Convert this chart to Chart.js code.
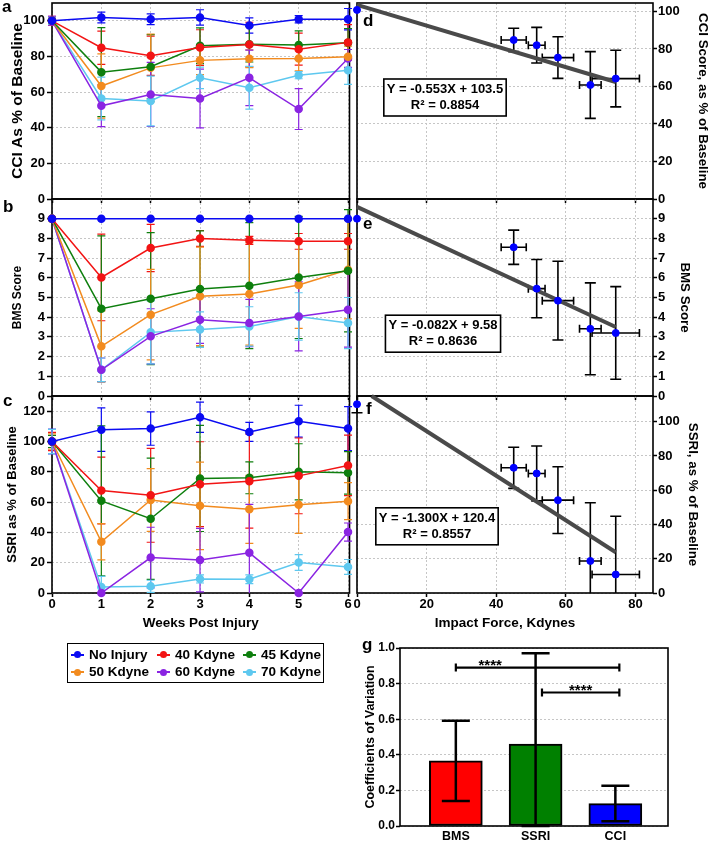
<!DOCTYPE html>
<html>
<head>
<meta charset="utf-8">
<title>Injury outcome measures</title>
<script src="https://cdn.jsdelivr.net/npm/chart.js@4.4.1/dist/chart.umd.min.js"></script>
<style>
  body { margin: 0; background: #fff; }
  #page { position: relative; width: 709px; height: 842px; overflow: hidden;
          font-family: "Liberation Sans", Arial, sans-serif; font-weight: bold; color: #000; }
  #page canvas { position: absolute; }
  .tag { position: absolute; font-size: 17px; line-height: 1; }
  #legend { position: absolute; left: 67px; top: 643px; width: 257px; height: 40px;
            border: 1.5px solid #000; box-sizing: border-box; font-size: 13.5px; }
  #legend .item { position: absolute; white-space: nowrap; line-height: 16px; }
  #legend .mk { display: inline-block; position: relative; width: 13px; height: 2px;
                vertical-align: middle; margin-right: 5px; }
  #legend .mk i { position: absolute; left: 3px; top: -2.5px; width: 7px; height: 7px; border-radius: 50%; }
</style>
</head>
<body>
<div id="page">
  <canvas id="cciWeeks" width="362" height="220" style="left:0;top:-9px"></canvas>
  <canvas id="bmsWeeks" width="362" height="221" style="left:0;top:187px"></canvas>
  <canvas id="ssriWeeks" width="362" height="258" style="left:0;top:384px"></canvas>
  <canvas id="cciForce" width="364" height="220" style="left:345px;top:-9px"></canvas>
  <canvas id="bmsForce" width="364" height="221" style="left:345px;top:187px"></canvas>
  <canvas id="ssriForce" width="364" height="258" style="left:345px;top:384px"></canvas>
  <canvas id="covBars" width="325" height="206" style="left:355px;top:636px"></canvas>

  <div class="tag" style="left:2px;top:-2px">a</div>
  <div class="tag" style="left:3px;top:198px">b</div>
  <div class="tag" style="left:3px;top:392px">c</div>
  <div class="tag" style="left:363px;top:12px">d</div>
  <div class="tag" style="left:363px;top:215px">e</div>
  <div class="tag" style="left:366px;top:400px">f</div>
  <div class="tag" style="left:362px;top:636px">g</div>
  <div id="legend"></div>
</div>

<script>
const weeks = [0, 1, 2, 3, 4, 5, 6];
const groups = ['No Injury', '40 Kdyne', '45 Kdyne', '50 Kdyne', '60 Kdyne', '70 Kdyne'];
const groupColors = ['#0b0bf2', '#f21414', '#0e7f0e', '#f28b1f', '#8a24e2', '#5ec8ef'];

// CCI as % of baseline, one row per group
const cciMean = [
    [100, 101.9, 100.9, 101.9, 97.4, 100.9, 100.9],
    [100, 84.9, 80.4, 85.0, 86.7, 84.1, 87.9],
    [100, 71.2, 74.2, 86.0, 86.9, 86.4, 87.7],
    [100, 63.4, 73.6, 77.8, 78.7, 78.9, 79.8],
    [100, 52.3, 58.7, 56.4, 68.0, 50.5, 78.9],
    [100, 56.4, 55.0, 68.0, 62.4, 69.5, 72.3]
];
const cciErr = [
    [2, 3, 3, 4.3, 4.3, 2, 6],
    [2.5, 9.3, 11, 10, 12.5, 9, 10],
    [2, 25, 18, 10, 10, 8, 8],
    [2, 18, 19, 8, 5, 7, 6],
    [2.5, 11.7, 18, 16.5, 15.6, 11.5, 5],
    [2, 12, 14, 6, 12, 2, 8]
];

// BMS score
const bmsMean = [
    [9, 9, 9, 9, 9, 9, 9],
    [9, 6.02, 7.51, 8.0, 7.9, 7.85, 7.85],
    [9, 4.43, 4.94, 5.43, 5.6, 6.02, 6.36],
    [9, 2.52, 4.13, 5.06, 5.18, 5.63, 6.41],
    [9, 1.33, 3.03, 3.87, 3.70, 4.04, 4.38],
    [9, 1.33, 3.23, 3.37, 3.53, 4.04, 3.70]
];
const bmsErr = [
    [0, 0, 0, 0, 0, 0, 0],
    [0, 2.2, 1.2, 0.4, 0.2, 0.4, 0.4],
    [0, 3.7, 3.35, 2.95, 3.2, 3.1, 3.1],
    [0, 1.8, 2.3, 2.5, 2.6, 2.2, 2.5],
    [0, 0.6, 1.4, 1.2, 1.2, 1.75, 1.9],
    [0, 0.6, 1.6, 0.9, 1.0, 1.2, 1.3]
];

// SSRI as % of baseline
const ssriMean = [
    [100, 107.8, 108.5, 116, 106.3, 113.4, 108.5],
    [100, 67.6, 64.5, 71.8, 73.8, 77.3, 84.2],
    [100, 60.8, 49.0, 75.6, 76.0, 80.0, 79.3],
    [100, 33.8, 61.4, 57.5, 55.2, 58.3, 60.6],
    [100, 0, 23.4, 21.7, 26.5, 0, 40.2],
    [100, 4, 4.4, 9.3, 9.1, 20.1, 17.2]
];
const ssriErr = [
    [8, 14.3, 11, 10, 6.3, 10.5, 14.5],
    [6, 22, 31, 28, 31, 25, 20],
    [4, 49.5, 40, 35, 10.5, 18.5, 14],
    [5, 12, 20.7, 28.9, 22.5, 19, 12.2],
    [8, 0, 20, 21, 32, 0, 6],
    [8, 7, 4, 2.7, 2.9, 5.2, 4.9]
];

// outcome against impact force
const forceKdyne = [0, 45.0, 51.6, 57.7, 67.0, 74.3];
const forceErr = [0, 3.6, 2.4, 4.5, 3.1, 6.8];
const cciByForce = [100.8, 84.8, 82.0, 75.4, 60.8, 64.2];
const cciByForceErr = [0, 6.2, 9.5, 11.1, 17.8, 15.1];
const bmsByForce = [9, 7.55, 5.45, 4.84, 3.41, 3.2];
const bmsByForceErr = [0, 0.87, 1.48, 2.0, 2.33, 2.35];
const ssriByForce = [110.2, 73.1, 69.8, 54.2, 18.7, 10.8];
const ssriByForceErr = [5, 12, 16, 19.5, 34, 34];

// fitted line ends
const cciFitX = [0, 74.3], cciFitY = [103.5, 62.4];
const bmsFitX = [0, 74.3], bmsFitY = [9.6, 3.5];
const ssriFitX = [4.2, 74.3], ssriFitY = [115, 23.8];
const cciFitText = ['Y = -0.553X + 103.5', 'R\u00b2 = 0.8854'];
const bmsFitText = ['Y = -0.082X + 9.58', 'R\u00b2 = 0.8636'];
const ssriFitText = ['Y = -1.300X + 120.4', 'R\u00b2 = 0.8557'];

// coefficients of variation
const covLabels = ['BMS', 'SSRI', 'CCI'];
const covMean = [0.366, 0.46, 0.126];
const covErr = [0.225, 0.51, 0.1];
const covColors = ['#ff0000', '#008000', '#0000ff'];
const sigFrom = [0, 1.08];
const sigTo = [2.05, 2.05];
const sigLevel = [0.89, 0.75];
const sigMark = ['****', '****'];

const FONT = '"Liberation Sans", Arial, sans-serif';
Chart.defaults.font.family = FONT;
Chart.defaults.font.weight = 'bold';
Chart.defaults.font.size = 13;
Chart.defaults.color = '#000';

function drawErrors(chart, above) {
    const { ctx, scales: { x, y } } = chart;
    chart.data.datasets.forEach(ds => {
        if (!ds.errY && !ds.errX) return;
        if (!!ds.errAbove !== above) return;
        const cap = ds.capHalf || 4;
        ctx.save();
        ctx.strokeStyle = ds.errColor || ds.borderColor;
        ctx.lineWidth = ds.errWidth || 1.2;
        ds.data.forEach((p, j) => {
            const px = x.getPixelForValue(p.x), py = y.getPixelForValue(p.y);
            const ey = ds.errY ? ds.errY[j] : 0;
            if (ey) {
                const hi = p.y + ey, lo = p.y - ey;
                const yTop = y.getPixelForValue(Math.min(hi, y.max));
                const yBot = y.getPixelForValue(Math.max(lo, y.min));
                ctx.beginPath();
                ctx.moveTo(px, yTop); ctx.lineTo(px, yBot);
                if (hi <= y.max || ds.capAtClamp) { ctx.moveTo(px - cap, yTop); ctx.lineTo(px + cap, yTop); }
                if (lo >= y.min || ds.capAtClamp) { ctx.moveTo(px - cap, yBot); ctx.lineTo(px + cap, yBot); }
                ctx.stroke();
            }
            const ex = ds.errX ? ds.errX[j] : 0;
            if (ex) {
                const xl = x.getPixelForValue(p.x - ex), xr = x.getPixelForValue(p.x + ex);
                const c = ds.capHalfX || 4;
                ctx.beginPath();
                ctx.moveTo(xl, py); ctx.lineTo(xr, py);
                ctx.moveTo(xl, py - c); ctx.lineTo(xl, py + c);
                ctx.moveTo(xr, py - c); ctx.lineTo(xr, py + c);
                ctx.stroke();
            }
        });
        ctx.restore();
    });
}

function drawEq(chart, eq) {
    const { ctx, chartArea: a } = chart;
    ctx.save();
    ctx.font = 'bold 13px ' + FONT;
    const w = Math.max(...eq.lines.map(t => ctx.measureText(t).width)) + 6;
    const h = 37, cx = a.left + eq.cx, cy = a.top + eq.cy;
    ctx.fillStyle = '#fff';
    ctx.fillRect(cx - w / 2, cy - h / 2, w, h);
    ctx.strokeStyle = '#000';
    ctx.lineWidth = 1.6;
    ctx.strokeRect(cx - w / 2, cy - h / 2, w, h);
    ctx.fillStyle = '#000';
    ctx.textAlign = 'center';
    ctx.textBaseline = 'middle';
    ctx.fillText(eq.lines[0], cx, cy - 8);
    ctx.fillText(eq.lines[1], cx, cy + 8);
    ctx.restore();
}

function drawBrackets(chart, b) {
    const { ctx, scales: { x, y } } = chart;
    ctx.save();
    ctx.strokeStyle = '#000';
    ctx.fillStyle = '#000';
    ctx.lineWidth = 2.2;
    ctx.font = 'bold 15px ' + FONT;
    ctx.textAlign = 'center';
    sigFrom.forEach((f, i) => {
        const x1 = x.getPixelForValue(f), x2 = x.getPixelForValue(sigTo[i]);
        const yy = y.getPixelForValue(sigLevel[i]);
        ctx.beginPath();
        ctx.moveTo(x1, yy); ctx.lineTo(x2, yy);
        ctx.moveTo(x1, yy - 4); ctx.lineTo(x1, yy + 4);
        ctx.moveTo(x2, yy - 4); ctx.lineTo(x2, yy + 4);
        ctx.stroke();
        ctx.fillText(sigMark[i], x1 + (x2 - x1) * b.labelAt[i], yy + 2);
    });
    ctx.restore();
}

// frame, error bars, fit boxes and brackets
Chart.register({
    id: 'decor',
    beforeDatasetsDraw(chart) {
        const { ctx, chartArea: a } = chart;
        ctx.save();
        ctx.strokeStyle = '#000';
        ctx.lineWidth = 1.6;
        ctx.strokeRect(a.left, a.top, a.right - a.left, a.bottom - a.top);
        ctx.restore();
        drawErrors(chart, false);
    },
    afterDatasetsDraw(chart, args, opts) {
        drawErrors(chart, true);
        if (opts.eq) drawEq(chart, opts.eq);
        if (opts.brackets) drawBrackets(chart, opts.brackets);
    }
});

const gridLine = '#c6c6c6';
const base = {
    responsive: false,
    animation: false,
    events: [],
    plugins: { legend: { display: false }, tooltip: { enabled: false } }
};

function xAxis(show, max, step, title, height) {
    return {
        type: 'linear', min: 0, max,
        ticks: { display: show, stepSize: step, includeBounds: false, padding: 0 },
        grid: { color: gridLine, tickColor: '#000', tickLength: 4, tickWidth: 1.5, tickBorderDash: [] },
        border: { display: false, dash: [2, 2] },
        title: { display: show, text: title, font: { size: 13.5, lineHeight: 1 }, padding: { top: 0, bottom: 12 } },
        afterFit: s => { s.height = height; }
    };
}

function yAxis(pos, max, step, title, size, pad, width) {
    return {
        position: pos, min: 0, max,
        ticks: { stepSize: step, includeBounds: false, padding: pos === 'left' ? 2 : 1 },
        grid: { color: gridLine, tickColor: '#000', tickLength: pos === 'left' ? 5 : 4, tickWidth: 1.5, tickBorderDash: [] },
        border: { display: false, dash: [2, 2] },
        title: { display: true, text: title, font: { size, lineHeight: 1 }, padding: { top: pad, bottom: 0 } },
        afterBuildTicks: s => { s.ticks = s.ticks.filter(t => t.value < max); },
        afterFit: s => { s.width = width; }
    };
}

function weekSets(means, errs) {
    return groups.map((g, i) => ({
        label: g,
        data: weeks.map((w, j) => ({ x: w, y: means[i][j] })),
        errY: errs[i],
        borderColor: groupColors[i],
        backgroundColor: groupColors[i],
        pointBackgroundColor: groupColors[i],
        pointBorderColor: groupColors[i],
        borderWidth: 1.5,
        pointRadius: 3.5,
        clip: false
    }));
}

function forceSets(vals, errs, fitX, fitY) {
    return [{
        type: 'scatter',
        data: forceKdyne.map((f, i) => ({ x: f, y: vals[i] })),
        errX: forceErr, errY: errs,
        errColor: '#000', errWidth: 1.6, capHalf: 5.5, capHalfX: 4,
        backgroundColor: '#0000ff', borderColor: '#0000ff',
        pointRadius: 3.5, clip: false, order: 0
    }, {
        type: 'line',
        data: fitX.map((x, i) => ({ x, y: fitY[i] })),
        borderColor: '#4a4a4a', borderWidth: 4, pointRadius: 0, clip: false, order: 1
    }];
}

function weekChart(id, means, errs, max, step, title, size, pad, showX) {
    new Chart(document.getElementById(id), {
        type: 'line',
        data: { datasets: weekSets(means, errs) },
        options: {
            ...base,
            layout: { padding: { top: 12, right: 12.5, left: 0, bottom: 0 } },
            scales: {
                x: xAxis(showX, 6.03, 1, 'Weeks Post Injury', showX ? 49 : 12),
                y: yAxis('left', max, step, title, size, pad, 52)
            }
        }
    });
}

function forceChart(id, vals, errs, fitX, fitY, fitText, box, max, step, title, pad, showX) {
    new Chart(document.getElementById(id), {
        type: 'scatter',
        data: { datasets: forceSets(vals, errs, fitX, fitY) },
        options: {
            ...base,
            layout: { padding: { top: 12, right: 0, left: 12, bottom: 0 } },
            scales: {
                x: xAxis(showX, 85, 20, 'Impact Force, Kdynes', showX ? 49 : 12),
                y: yAxis('right', max, step, title, 13.3, pad, 56)
            },
            plugins: { ...base.plugins, decor: { eq: { lines: fitText, cx: box[0], cy: box[1] } } }
        }
    });
}

weekChart('cciWeeks', cciMean, cciErr, 110, 20, 'CCI As % of Baseline', 15.5, 9.75, false);
weekChart('bmsWeeks', bmsMean, bmsErr, 10, 1, 'BMS Score', 12, 12, false);
weekChart('ssriWeeks', ssriMean, ssriErr, 130, 20, 'SSRI as % of Baseline', 13, 5.5, true);

forceChart('cciForce', cciByForce, cciByForceErr, cciFitX, cciFitY, cciFitText, [88, 94.5],
    104.5, 20, 'CCI Score, as % of Baseline', 0, false);
forceChart('bmsForce', bmsByForce, bmsByForceErr, bmsFitX, bmsFitY, bmsFitText, [86, 134.7],
    10, 1, 'BMS Score', 17.3, false);
forceChart('ssriForce', ssriByForce, ssriByForceErr, ssriFitX, ssriFitY, ssriFitText, [80, 130.3],
    115, 20, 'SSRI, as % of Baseline', 9.3, true);

new Chart(document.getElementById('covBars'), {
    type: 'bar',
    data: {
        datasets: [{
            data: covLabels.map((c, i) => ({ x: i, y: covMean[i] })),
            errY: covErr, errAbove: true, errColor: '#000', errWidth: 2.5, capHalf: 14, capAtClamp: true,
            backgroundColor: covColors,
            borderColor: '#000',
            borderWidth: 2,
            borderSkipped: false,
            barThickness: 53
        }]
    },
    options: {
        ...base,
        layout: { padding: { top: 12, right: 12, left: 0, bottom: 0 } },
        scales: {
            x: {
                type: 'linear', min: -0.7, max: 2.66, offset: false,
                ticks: { stepSize: 1, includeBounds: false, padding: 3, font: { size: 12.5 },
                         callback: v => covLabels[v] ?? '' },
                grid: { display: false, drawTicks: false, offset: false },
                border: { display: false },
                afterFit: s => { s.height = 16; }
            },
            y: {
                min: 0, max: 1,
                ticks: { stepSize: 0.2, padding: 1, font: { size: 12 }, callback: v => v.toFixed(1) },
                grid: { color: gridLine, tickColor: '#000', tickLength: 4, tickWidth: 1.5, tickBorderDash: [] },
                border: { display: false, dash: [2, 2] },
                title: { display: true, text: 'Coefficients of Variation', font: { size: 12.5, lineHeight: 1 },
                         padding: { top: 9.75, bottom: 0 } },
                afterFit: s => { s.width = 45; }
            }
        },
        plugins: { ...base.plugins, decor: { brackets: { labelAt: [0.21, 0.5] } } }
    }
});

// legend box under the week panels
const legend = document.getElementById('legend');
groups.forEach((g, i) => {
    const item = document.createElement('div');
    item.className = 'item';
    item.style.left = (3 + (i % 3) * 86) + 'px';
    item.style.top = (2.5 + Math.floor(i / 3) * 17.3) + 'px';
    item.innerHTML = `<span class="mk" style="background:${groupColors[i]}"><i style="background:${groupColors[i]}"></i></span>${g}`;
    legend.appendChild(item);
});
</script>
</body>
</html>
